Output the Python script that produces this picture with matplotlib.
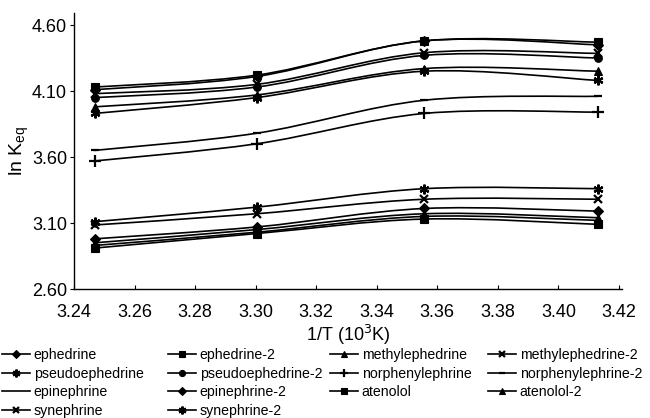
import matplotlib
matplotlib.use("Agg")
import matplotlib.pyplot as plt
from matplotlib.path import Path
from matplotlib.patches import PathPatch
from matplotlib.lines import Line2D
import numpy as np

plt.rcParams['font.family'] = ['Liberation Sans', 'DejaVu Sans']

# 1/T in 10^3 K^-1 (308, 303, 298, 293 K)
inv_t = [3.2468, 3.3003, 3.3557, 3.4130]

names = ['ephedrine', 'ephedrine-2', 'methylephedrine', 'methylephedrine-2',
         'pseudoephedrine', 'pseudoephedrine-2', 'norphenylephrine', 'norphenylephrine-2',
         'epinephrine', 'epinephrine-2', 'atenolol', 'atenolol-2',
         'synephrine', 'synephrine-2']

ephedrine = [4.11, 4.21, 4.48, 4.45]
ephedrine_2 = [4.13, 4.22, 4.48, 4.47]
methylephedrine = [3.98, 4.07, 4.27, 4.25]
methylephedrine_2 = [4.08, 4.15, 4.39, 4.385]
pseudoephedrine = [3.93, 4.05, 4.25, 4.18]
pseudoephedrine_2 = [4.05, 4.13, 4.37, 4.35]
norphenylephrine = [3.57, 3.70, 3.93, 3.94]
norphenylephrine_2 = [3.65, 3.78, 4.03, 4.06]
epinephrine = [2.93, 3.03, 3.15, 3.12]
epinephrine_2 = [2.98, 3.07, 3.21, 3.19]
atenolol = [2.91, 3.02, 3.13, 3.09]
atenolol_2 = [2.95, 3.05, 3.17, 3.14]
synephrine = [3.085, 3.17, 3.28, 3.28]
synephrine_2 = [3.11, 3.22, 3.36, 3.36]

series = [ephedrine, ephedrine_2, methylephedrine, methylephedrine_2,
          pseudoephedrine, pseudoephedrine_2, norphenylephrine, norphenylephrine_2,
          epinephrine, epinephrine_2, atenolol, atenolol_2,
          synephrine, synephrine_2]

star = (6, 2, 0)
markers = ['D', 's', '^', 'x', star, 'o', '+', '_',
           'None', 'D', 's', '^', 'x', star]
msizes = [5, 6, 6, 6, 7, 5.5, 8, 6, 0, 5, 6, 6, 6, 7]


def smooth_path(xs, ys):
    # Excel-style smoothed line: cubic Bezier through the data points
    p = np.column_stack([xs, ys])
    n = len(p)
    verts = [p[0]]
    codes = [Path.MOVETO]
    for i in range(n - 1):
        p0 = p[max(i - 1, 0)]
        p3 = p[min(i + 2, n - 1)]
        c1 = p[i] + (p[i + 1] - p0) / 6
        c2 = p[i + 1] - (p3 - p[i]) / 6
        verts += [c1, c2, p[i + 1]]
        codes += [Path.CURVE4] * 3
    return Path(verts, codes)


fig = plt.figure(figsize=(6.5, 4.18), dpi=100)
ax = fig.add_axes([0.1138, 0.3086, 0.843, 0.660])

handles = []
for name, ys, m, ms in zip(names, series, markers, msizes):
    ax.add_patch(PathPatch(smooth_path(inv_t, ys), facecolor='none',
                           edgecolor='black', lw=1.2))
    mew = 1.6 if m in ('x', '+', '_', star) else 0.8
    ax.plot(inv_t, ys, linestyle='none', marker=m, ms=ms, color='black', mew=mew)
    handles.append(Line2D([], [], color='black', lw=1.2, marker=m,
                          ms=ms * 0.8, mew=mew, label=name))

ax.set_xlim(3.24, 3.421)
ax.set_ylim(2.6, 4.69)
ax.set_xticks(np.arange(3.24, 3.4201, 0.02))
ax.set_yticks([2.60, 3.10, 3.60, 4.10, 4.60])
ax.xaxis.set_major_formatter(matplotlib.ticker.FormatStrFormatter('%.2f'))
ax.yaxis.set_major_formatter(matplotlib.ticker.FormatStrFormatter('%.2f'))
ax.tick_params(axis='x', direction='in', length=3, width=0.8, labelsize=13, pad=11)
ax.tick_params(axis='y', direction='out', length=3, width=0.8, labelsize=13, pad=2)
for s in ['top', 'right']:
    ax.spines[s].set_visible(False)
for s in ['left', 'bottom']:
    ax.spines[s].set_linewidth(1.0)

ax.set_xlabel('1/T (10$^3$K)', fontsize=13, labelpad=1)
ax.set_ylabel('ln K$_{\\mathregular{eq}}$', fontsize=14, labelpad=1)

col_x = [2, 168, 330, 488]
for c in range(4):
    fig.legend(handles=handles[c::4], loc='upper left',
               bbox_to_anchor=(col_x[c] / 650, 1 - 348 / 418),
               frameon=False, fontsize=10.2, borderpad=0, borderaxespad=0,
               handlelength=2.0, handletextpad=0.25, labelspacing=0.32)

fig.savefig('out.png', dpi=100)
